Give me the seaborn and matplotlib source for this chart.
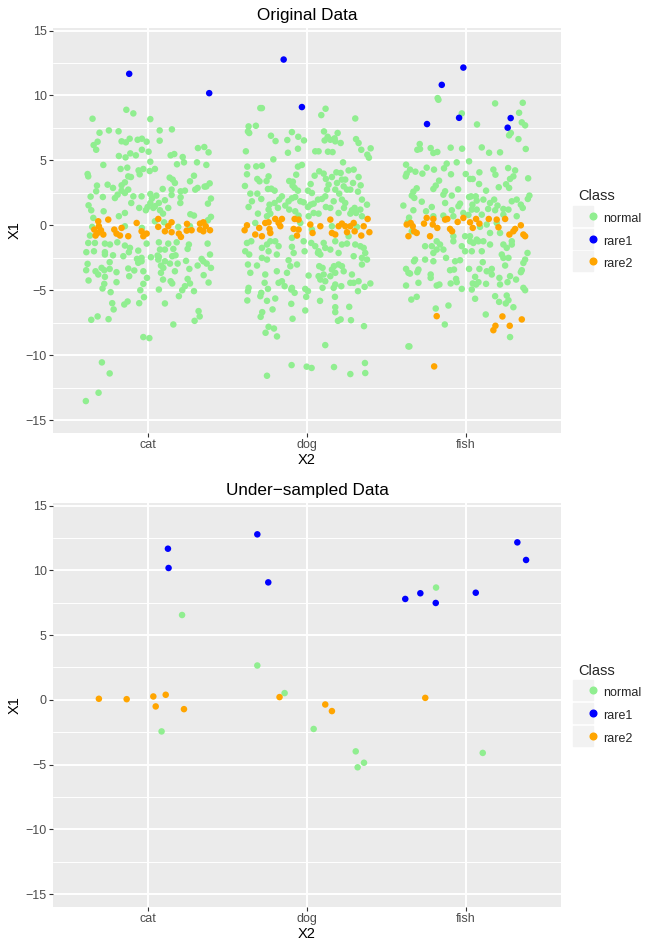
import matplotlib
matplotlib.use("Agg")
import matplotlib.pyplot as plt
import seaborn as sns
import pandas as pd
from matplotlib.lines import Line2D
from matplotlib.legend_handler import HandlerTuple
from matplotlib.ticker import MultipleLocator

categories = ["cat", "dog", "fish"]
classes = ["normal", "rare1", "rare2"]
palette = {"normal": "#90EE90", "rare1": "#0000FF", "rare2": "#FFA500"}

# Original data: (jitter offset from the category, X1)
normal_cat = [
    (-0.138, 8.90), (-0.094, 8.62), (-0.351, 8.21), (0.013, 8.18), (-0.307, 7.13), (-0.248, 7.31), (-0.187, 7.24),
    (0.072, 7.31), (0.149, 7.39), (-0.344, 6.18), (-0.319, 6.44), (-0.328, 5.82), (-0.168, 6.47), (-0.141, 6.39),
    (-0.117, 6.67), (-0.067, 6.59), (-0.04, 6.67), (-0.01, 6.44), (0.072, 6.52), (-0.04, 5.82), (0.002, 5.67),
    (-0.185, 5.34), (-0.143, 5.23), (-0.113, 5.54), (-0.078, 5.39), (0.141, 5.39), (0.164, 5.49), (0.217, 5.26),
    (0.313, 5.95), (0.353, 6.03), (0.38, 5.62), (0.013, 4.90), (0.181, 4.70), (0.225, 4.85), (0.307, 4.85),
    (0.366, 4.65), (-0.283, 4.65), (-0.174, 4.34), (-0.132, 4.44), (-0.061, 4.23), (-0.031, 4.34), (0.009, 4.18),
    (0.042, 4.34), (-0.382, 3.95), (-0.378, 3.77), (-0.126, 3.77), (-0.109, 3.72), (-0.147, 3.31), (-0.054, 3.93),
    (0.135, 3.67), (0.154, 3.52), (0.168, 3.26), (0.288, 3.82), (0.263, 3.39), (0.387, 3.23), (0.355, 2.98),
    (-0.323, 3.06), (-0.256, 3.13), (-0.222, 2.88), (-0.168, 3.08), (-0.168, 2.67), (-0.193, 2.36), (-0.147, 2.49),
    (-0.126, 2.75), (-0.363, 2.21), (-0.328, 2.62), (-0.286, 2.18), (-0.094, 2.23), (-0.042, 2.23), (0.013, 2.41),
    (0.023, 2.06), (0.051, 2.29), (0.091, 2.80), (0.147, 2.75), (0.147, 2.34), (0.204, 2.62), (0.204, 2.16),
    (0.231, 2.67), (0.202, 1.72), (0.296, 2.75), (0.311, 2.88), (0.366, 3.0), (0.395, 2.06), (0.376, 1.67),
    (-0.376, 1.54), (-0.359, 1.16), (-0.281, 1.08), (-0.185, 0.70), (-0.147, 0.95), (-0.107, 1.72), (-0.057, 1.34),
    (-0.015, 1.16), (0.013, 1.72), (0.042, 1.47), (0.067, 1.72), (0.105, 1.93), (0.126, 1.34), (0.093, 0.90),
    (0.265, 0.85), (0.288, 0.75), (0.395, 0.65), (0.376, 0.39), (0.032, 1.34), (0.074, 1.16), (-0.004, 1.41),
    (-0.21, 2.1), (-0.346, 0.57), (-0.353, -0.12), (-0.147, -0.07), (-0.04, -0.2), (0.1, 0.23), (0.189, -0.12),
    (-0.367, -0.79), (0.042, 0.31), (0.263, -0.07),
    (-0.378, -1.36), (-0.336, -1.36), (-0.273, -1.41), (-0.241, -1.48), (-0.195, -1.31), (-0.147, -1.56),
    (-0.115, -1.74), (-0.01, -1.41), (0.067, -1.31), (0.074, -1.87), (0.126, -1.41), (0.105, -1.87), (0.158, -1.82),
    (0.179, -1.31), (0.256, -1.48), (0.248, -1.82), (0.374, -1.41), (-0.39, -2.07), (-0.342, -2.0), (-0.273, -2.07),
    (-0.273, -2.25), (-0.222, -2.31), (-0.157, -2.38), (-0.122, -2.07), (-0.063, -1.95), (-0.042, -2.51),
    (0.017, -2.46), (0.059, -2.33), (0.063, -2.64), (0.151, -2.38), (0.172, -2.31), (-0.382, -2.97), (-0.391, -3.46),
    (-0.332, -3.54), (-0.315, -3.79), (-0.294, -3.28), (-0.277, -3.46), (-0.243, -3.36), (-0.273, -3.97),
    (-0.243, -2.84), (-0.2, -3.61), (-0.376, -4.25), (-0.277, -4.51), (-0.288, -4.87), (-0.237, -5.15), (-0.2, -4.38),
    (-0.126, -3.33), (-0.12, -3.92), (-0.088, -3.48), (-0.071, -2.59), (-0.042, -2.77), (-0.063, -2.89),
    (-0.031, -3.54), (-0.008, -4.05), (-0.031, -4.51), (-0.05, -5.0), (-0.027, -5.54), (-0.057, -6.0), (-0.13, -5.87),
    (-0.151, -6.1), (-0.227, -6.0), (-0.218, -6.48), (-0.359, -7.28), (-0.319, -7.02), (-0.25, -7.23), (0.067, -2.43),
    (0.08, -3.1), (0.08, -3.66), (0.095, -3.28), (0.105, -2.77), (0.137, -2.95), (0.168, -3.54), (0.185, -2.95),
    (0.093, -4.18), (0.067, -4.95), (0.141, -4.31), (0.151, -4.48), (0.214, -5.0), (0.231, -4.69), (0.263, -4.48),
    (0.248, -4.13), (0.288, -5.07), (0.259, -3.36), (0.238, -2.74), (0.311, -3.1), (0.349, -3.84), (0.38, -4.41),
    (0.347, -2.77), (0.368, -2.95), (0.389, -2.25), (0.395, -3.28), (0.336, -2.59), (0.193, -5.46), (0.105, -6.02),
    (0.317, -6.61), (0.324, -7.02), (0.292, -7.36), (0.158, -7.64), (-0.031, -8.61), (0.007, -8.69),
    (-0.292, -10.56), (-0.243, -11.41), (-0.313, -12.9), (-0.393, -13.54),
]
normal_dog = [
    (-0.294, 9.03), (-0.284, 9.03), (0.117, 8.98), (0.09, 8.49), (0.304, 8.23), (-0.368, 7.62), (-0.372, 7.23),
    (-0.364, 7.11), (-0.322, 7.67), (-0.227, 6.9), (-0.198, 6.49), (-0.124, 6.57), (-0.095, 7.18), (-0.055, 6.82),
    (-0.019, 6.54), (-0.057, 5.9), (-0.12, 5.59), (-0.385, 5.7), (-0.212, 5.08), (0.107, 7.23), (0.13, 6.82),
    (0.111, 6.54), (0.147, 6.59), (0.174, 6.7), (0.193, 7.11), (0.178, 6.47), (0.212, 6.34), (0.309, 6.64),
    (0.325, 6.34), (0.342, 5.82), (0.38, 5.44), (0.39, 5.21), (0.401, 5.93), (0.052, 5.7), (0.073, 5.7),
    (0.132, 5.67), (0.161, 5.64), (0.227, 4.85), (-0.376, 4.52), (-0.32, 4.54), (-0.284, 4.59), (-0.378, 3.93),
    (-0.313, 3.57), (-0.299, 3.39), (-0.242, 3.77), (-0.255, 3.41), (-0.391, 3.03), (-0.246, 2.8), (-0.225, 2.82),
    (-0.357, 2.44), (-0.313, 2.44), (-0.204, 2.67), (-0.057, 4.52), (-0.032, 4.65), (-0.068, 3.9), (-0.112, 3.41),
    (-0.089, 3.36), (-0.078, 2.88), (-0.057, 2.67), (-0.091, 3.06), (0.006, 2.67), (0.023, 3.18), (0.031, 2.49),
    (0.048, 3.82), (0.077, 4.16), (0.105, 3.98), (0.119, 3.57), (0.136, 3.13), (0.126, 2.75), (0.157, 3.72),
    (0.185, 4.08), (0.212, 4.03), (0.22, 3.52), (0.189, 3.26), (0.178, 2.75), (0.231, 3.0), (0.262, 4.23),
    (0.294, 4.29), (0.252, 2.75), (0.273, 2.75), (0.29, 3.26), (0.325, 3.72), (0.338, 3.08), (0.321, 2.59),
    (0.241, 3.52), (0.203, 2.44), (-0.368, 1.41), (-0.347, 1.85), (-0.288, 2.03), (-0.236, 1.59), (-0.242, 1.21),
    (-0.204, 1.72), (-0.183, 1.34), (-0.158, 2.23), (-0.175, 1.98), (-0.137, 1.52), (-0.116, 1.85), (-0.095, 2.08),
    (-0.074, 2.18), (-0.112, 1.21), (-0.074, 1.08), (-0.042, 1.85), (-0.021, 1.77), (0.006, 1.41), (0.023, 1.59),
    (0.042, 1.67), (0.069, 1.98), (0.094, 2.03), (0.115, 2.23), (0.119, 1.41), (0.147, 1.34), (0.168, 1.85),
    (0.22, 1.98), (0.241, 1.72), (0.233, 1.34), (0.283, 1.16), (0.3, 1.34), (0.346, 1.98), (0.378, 1.59),
    (0.336, 1.21), (0.309, 0.95), (0.346, 0.7), (0.273, 0.9), (0.199, 0.95), (0.073, 0.9), (0.042, 0.95),
    (-0.053, 0.75), (0.01, 0.7), (-0.309, 0.9), (-0.252, 0.7), (-0.231, 0.9), (-0.042, 0.18), (0.157, -0.07),
    (0.262, -0.84), (-0.095, -0.97), (-0.326, 0.18), (0.031, -0.33), (0.315, -0.12),
    (-0.378, -1.36), (-0.351, -1.23), (-0.284, -1.74), (-0.252, -1.48), (-0.231, -1.23), (-0.2, -1.23),
    (-0.242, -2.0), (-0.179, -1.61), (-0.19, -2.25), (-0.095, -1.66), (-0.084, -2.13), (-0.021, -1.23),
    (-0.015, -2.0), (0.027, -1.36), (0.052, -1.61), (0.073, -2.0), (0.084, -2.25), (0.105, -1.36), (0.115, -1.74),
    (0.147, -1.87), (0.178, -1.23), (0.199, -2.13), (0.22, -1.48), (0.252, -1.41), (0.304, -1.48), (0.336, -1.61),
    (0.357, -1.74), (0.367, -2.13), (0.294, -2.38), (0.346, -2.51), (-0.389, -2.0), (-0.364, -2.25), (-0.284, -2.51),
    (-0.252, -2.64), (-0.372, -3.02), (-0.357, -3.66), (-0.315, -3.1), (-0.263, -3.79), (-0.19, -3.54),
    (-0.126, -3.66), (-0.116, -2.69), (-0.105, -3.15), (-0.063, -3.02), (-0.267, -4.43), (-0.179, -4.43),
    (-0.158, -4.31), (-0.141, -4.69), (-0.095, -4.82), (-0.078, -5.2), (-0.099, -4.95), (-0.368, -4.82),
    (-0.372, -5.07), (-0.288, -5.2), (-0.294, -5.46), (-0.246, -4.9), (0.01, -3.87), (-0.011, -4.9), (0.006, -5.07),
    (-0.005, -5.51), (0.069, -2.13), (0.077, -3.15), (0.098, -3.28), (0.073, -3.92), (0.105, -3.79), (0.084, -4.18),
    (0.115, -4.31), (0.157, -3.41), (0.17, -3.15), (0.199, -3.02), (0.22, -3.15), (0.231, -3.54), (0.178, -3.66),
    (0.147, -3.92), (0.098, -4.82), (0.216, -4.69), (0.168, -4.82), (0.178, -4.56), (0.283, -3.79), (0.294, -4.43),
    (0.273, -4.43), (0.325, -4.31), (0.321, -5.07), (0.363, -4.74), (0.399, -4.48), (0.346, -3.02), (0.378, -2.64),
    (0.082, -5.82), (0.176, -5.51), (0.178, -6.31), (0.178, -6.69), (0.266, -6.28), (0.195, -7.36), (0.212, -7.25),
    (0.277, -7.31), (0.359, -7.77), (-0.376, -5.79), (-0.252, -5.82), (-0.2, -5.64), (-0.217, -6.48),
    (-0.099, -6.05), (-0.011, -6.56), (-0.282, -6.69), (-0.292, -7.05), (-0.091, -7.2), (-0.242, -7.82),
    (-0.208, -7.95), (-0.261, -8.28), (-0.189, -8.56), (0.115, -9.23), (-0.097, -10.77), (-0.002, -10.89),
    (0.029, -10.99), (0.17, -10.92), (0.365, -10.61), (0.273, -11.46), (0.367, -11.38), (-0.252, -11.59),
]
normal_fish = [
    (-0.177, 9.8), (-0.172, 9.67), (0.185, 9.39), (0.359, 9.44), (-0.025, 8.62), (0.336, 8.67), (0.071, 7.77),
    (0.353, 7.93), (0.374, 7.7), (0.273, 6.93), (0.284, 7.11), (0.332, 6.64), (0.378, 5.88), (-0.29, 6.26),
    (-0.305, 5.82), (-0.288, 5.88), (-0.221, 5.95), (-0.204, 5.57), (-0.179, 5.65), (-0.095, 5.98), (-0.023, 5.9),
    (0.101, 6.0), (0.147, 5.59), (0.216, 5.62), (-0.376, 4.67), (-0.351, 4.29), (-0.378, 3.77), (-0.372, 3.98),
    (-0.317, 4.13), (-0.273, 3.98), (-0.246, 4.44), (-0.2, 4.29), (-0.137, 4.39), (-0.12, 4.75), (-0.057, 4.85),
    (0.021, 4.93), (-0.093, 3.93), (0.0, 3.95), (0.027, 3.57), (0.044, 3.57), (0.086, 4.08), (0.174, 4.29),
    (0.187, 3.9), (0.267, 4.41), (0.311, 4.23), (0.3, 3.77), (0.279, 3.57), (0.254, 3.16), (0.273, 2.88),
    (0.393, 3.62), (-0.168, 3.44), (-0.204, 2.8), (-0.189, 3.06), (-0.309, 2.85), (-0.33, 2.59), (-0.34, 2.29),
    (-0.324, 2.11), (-0.277, 1.82), (-0.393, 1.52), (-0.048, 2.77), (-0.13, 2.62), (-0.141, 2.36), (-0.088, 2.29),
    (-0.13, 1.72), (0.084, 3.18), (0.128, 2.67), (0.208, 2.93), (0.034, 2.23), (0.021, 2.18), (0.063, 2.23),
    (0.111, 1.98), (0.069, 1.9), (0.042, 1.59), (0.153, 1.72), (0.179, 1.98), (0.2, 1.52), (0.29, 1.85),
    (0.321, 1.98), (0.347, 1.59), (0.391, 2.03), (0.401, 2.29), (-0.046, 1.47), (-0.036, 1.67), (-0.088, 1.16),
    (-0.214, 1.41), (-0.25, 1.08), (-0.33, 1.16), (-0.357, 0.59), (-0.366, 0.23), (0.069, 1.21), (0.101, 0.82),
    (0.141, 1.26), (0.185, 1.16), (0.237, 1.26), (0.269, 1.21), (0.237, 0.82), (0.321, 0.7), (0.359, 1.34),
    (-0.015, 0.95), (0.017, 0.8), (0.038, 1.21), (-0.141, 0.75), (-0.078, 0.7), (-0.204, 0.7), (0.132, 0.06),
    (0.195, 0.18), (0.09, -0.12), (-0.004, -0.84), (0.027, -0.84), (-0.078, -0.84), (0.153, -0.59), (0.216, -0.59),
    (0.069, -1.1), (0.111, -1.23), (-0.34, -0.46),
    (-0.256, -1.61), (-0.214, -1.61), (-0.183, -1.23), (-0.162, -1.48), (-0.141, -1.87), (-0.204, -2.13),
    (-0.183, -1.87), (-0.078, -1.23), (-0.025, -1.61), (-0.004, -2.0), (0.027, -1.23), (0.048, -1.36),
    (0.08, -1.23), (0.153, -1.48), (0.237, -1.48), (0.258, -1.74), (0.29, -1.23), (0.29, -1.48),
    (-0.319, -2.64), (-0.326, -2.77), (-0.256, -2.64), (-0.204, -2.77), (-0.124, -2.51), (-0.067, -2.77),
    (-0.036, -2.69), (0.038, -2.0), (0.101, -2.0), (0.227, -2.25), (0.237, -2.51), (0.269, -2.51), (0.248, -3.1),
    (0.389, -2.13), (0.374, -2.64), (0.363, -2.9), (-0.376, -3.36), (-0.361, -3.66), (-0.298, -3.41),
    (-0.351, -3.72), (-0.305, -3.61), (-0.221, -3.79), (-0.221, -4.05), (-0.099, -3.46), (-0.074, -3.41),
    (0.021, -3.36), (0.086, -3.36), (0.107, -2.84), (0.132, -3.54), (0.164, -3.36), (0.164, -3.79), (0.059, -3.97),
    (-0.376, -4.64), (-0.298, -4.43), (-0.183, -4.64), (-0.166, -4.56), (-0.095, -4.48), (-0.057, -4.38),
    (-0.061, -4.13), (-0.025, -4.9), (0.038, -4.95), (0.044, -4.48), (0.065, -4.56), (0.08, -4.38), (0.128, -4.51),
    (0.212, -4.05), (0.216, -4.56), (0.263, -4.38), (0.279, -3.92), (0.317, -4.18), (0.347, -3.61), (0.353, -3.46),
    (0.363, -4.82), (0.374, -5.0), (-0.343, -5.72), (-0.309, -5.51), (0.059, -5.66), (0.185, -5.46), (0.21, -5.9),
    (0.258, -5.41), (0.269, -5.77), (0.252, -6.02), (0.3, -6.31), (-0.189, -6.41), (-0.109, -6.18), (0.126, -6.87),
    (-0.132, -7.64), (0.279, -8.61), (-0.361, -9.33), (-0.355, -9.33),
]
rare1_cat = [(-0.12, 11.67), (0.384, 10.18)]
rare1_dog = [(-0.147, 12.77), (-0.032, 9.11)]
rare1_fish = [(-0.015, 12.15), (-0.151, 10.82), (-0.042, 8.28), (-0.244, 7.8), (0.283, 8.26), (0.264, 7.52)]
rare2_cat = [
    (-0.315, 0.31), (-0.311, -0.07), (-0.319, -0.59), (-0.332, -0.79), (-0.298, -0.38), (-0.283, -0.71),
    (-0.34, -0.33), (-0.252, 0.44), (-0.214, -0.33), (-0.2, -0.64), (-0.178, -0.79), (-0.168, -0.2),
    (-0.126, -0.84), (-0.073, 0.18), (-0.042, -0.46), (-0.031, -0.84), (-0.01, -0.64), (0.063, 0.49),
    (0.063, -0.12), (0.105, -0.46), (0.126, -0.07), (0.147, 0.23), (0.147, -0.53), (0.193, -0.64), (0.206, -0.89),
    (0.244, 0.11), (0.242, -0.41), (0.273, -0.38), (0.326, 0.13), (0.347, 0.23), (0.362, -0.07), (0.347, -0.46),
    (0.326, -0.33), (0.389, -0.38),
]
rare2_dog = [
    (-0.378, 0.0), (-0.393, -0.38), (-0.326, -0.71), (-0.301, -0.2), (-0.284, -0.84), (-0.263, 0.18),
    (-0.242, 0.23), (-0.236, -0.28), (-0.231, -0.59), (-0.2, 0.49), (-0.179, 0.18), (-0.168, -0.07),
    (-0.158, 0.49), (-0.078, 0.49), (-0.053, 0.44), (-0.084, -0.28), (-0.063, -0.79), (-0.053, -0.33),
    (0.021, 0.06), (0.035, -0.59), (0.084, -0.07), (0.147, 0.44), (0.157, -0.59), (0.178, -0.71), (0.199, -0.07),
    (0.22, 0.13), (0.241, -0.07), (0.252, -0.53), (0.273, -0.07), (0.294, 0.18), (0.3, -0.46), (0.342, -0.79),
    (0.357, -0.07), (0.382, 0.49), (0.393, -0.53),
]
rare2_fish = [
    (-0.372, 0.06), (-0.347, 0.18), (-0.361, -0.84), (-0.334, -0.07), (-0.326, -0.46), (-0.309, -0.59),
    (-0.263, 0.13), (-0.246, 0.57), (-0.225, -0.84), (-0.208, 0.06), (-0.204, 0.49), (-0.179, -0.2),
    (-0.13, 0.44), (-0.116, 0.49), (-0.099, -0.28), (-0.086, -0.46), (-0.051, 0.26), (-0.015, 0.57),
    (0.027, 0.23), (0.044, -0.2), (0.065, 0.49), (0.086, 0.13), (0.145, 0.49), (0.195, 0.44), (0.206, -0.15),
    (0.248, 0.49), (0.275, -0.71), (0.3, -0.46), (0.311, -0.28), (0.347, 0.0), (0.363, -0.71), (0.374, -0.84),
    (-0.183, -7.0), (0.231, -7.02), (0.353, -7.25), (0.187, -7.74), (0.174, -8.08), (0.277, -7.74), (-0.199, -10.87),
]

# Under-sampled data
us_normal_cat = [(0.213, 6.55), (0.084, -2.44)]
us_normal_dog = [(-0.313, 2.65), (-0.141, 0.52), (0.042, -2.25), (0.307, -3.98), (0.359, -4.86), (0.319, -5.21)]
us_normal_fish = [(-0.187, 8.67), (0.107, -4.10)]
us_rare1_cat = [(0.124, 11.67), (0.128, 10.18)]
us_rare1_dog = [(-0.313, 12.78), (-0.244, 9.07)]
us_rare1_fish = [(0.325, 12.16), (0.38, 10.8), (-0.286, 8.23), (-0.381, 7.79), (-0.189, 7.48), (0.063, 8.27)]
us_rare2_cat = [(-0.311, 0.08), (-0.136, 0.05), (0.032, 0.26), (0.11, 0.39), (0.047, -0.51), (0.225, -0.72)]
us_rare2_dog = [(-0.173, 0.21), (0.115, -0.36), (0.157, -0.87)]
us_rare2_fish = [(-0.255, 0.15)]

y_ticks = [-15, -10, -5, 0, 5, 10, 15]


def build_frame(groups):
    rows = []
    for cls, cat, pairs in groups:
        pos = categories.index(cat)
        for dx, y in pairs:
            rows.append({"X2": cat, "xpos": pos + dx, "X1": y, "Class": cls})
    return pd.DataFrame(rows)


orig = build_frame([
    ("normal", "cat", normal_cat), ("normal", "dog", normal_dog), ("normal", "fish", normal_fish),
    ("rare1", "cat", rare1_cat), ("rare1", "dog", rare1_dog), ("rare1", "fish", rare1_fish),
    ("rare2", "cat", rare2_cat), ("rare2", "dog", rare2_dog), ("rare2", "fish", rare2_fish),
])
under = build_frame([
    ("normal", "cat", us_normal_cat), ("normal", "dog", us_normal_dog), ("normal", "fish", us_normal_fish),
    ("rare1", "cat", us_rare1_cat), ("rare1", "dog", us_rare1_dog), ("rare1", "fish", us_rare1_fish),
    ("rare2", "cat", us_rare2_cat), ("rare2", "dog", us_rare2_dog), ("rare2", "fish", us_rare2_fish),
])

sns.set_style("darkgrid", {"axes.facecolor": "#EBEBEB", "grid.color": "white"})
plt.rcParams["font.family"] = ["Liberation Sans", "DejaVu Sans"]

fig = plt.figure(figsize=(6.64, 9.49), dpi=100)
ax_top = fig.add_axes([53 / 664, 1 - 433 / 949, 508 / 664, 405 / 949])
ax_bot = fig.add_axes([53 / 664, 1 - 907 / 949, 508 / 664, 404 / 949])


def draw_panel(ax, df, title):
    sns.scatterplot(data=df, x="xpos", y="X1", hue="Class", hue_order=classes, palette=palette,
                    s=22, linewidth=0, alpha=1, ax=ax, legend=False, zorder=3)
    ax.set_xlim(-0.6, 2.6)
    ax.set_ylim(-16.0, 15.2)
    ax.set_xticks(range(len(categories)))
    ax.set_xticklabels(categories)
    ax.set_yticks(y_ticks)
    ax.yaxis.set_minor_locator(MultipleLocator(2.5))
    ax.grid(False)
    ax.grid(which="major", color="white", linewidth=1.4)
    ax.grid(which="minor", axis="y", color="white", linewidth=0.7)
    ax.set_axisbelow(True)
    for sp in ax.spines.values():
        sp.set_visible(False)
    ax.tick_params(which="major", length=2.6, width=0.8, color="#333333", labelcolor="#4D4D4D",
                   labelsize=9.0, pad=2, bottom=True, left=True)
    ax.tick_params(which="minor", length=0)
    ax.set_xlabel("X2", fontsize=10.5, color="black", labelpad=1)
    ax.set_ylabel("X1", fontsize=10.5, color="black", labelpad=3)
    ax.set_title(title, fontsize=12.3, color="black", pad=6)

    handles = [
        (Line2D([], [], marker="s", markersize=14.6, color="#F2F2F2", linestyle=""),
         Line2D([], [], marker="o", markersize=4.8, color=palette[c], linestyle=""))
        for c in classes
    ]
    leg = ax.legend(handles, classes, title="Class", loc="center left", bbox_to_anchor=(1.033, 0.5),
                    frameon=False, borderpad=0, handler_map={tuple: HandlerTuple(ndivide=None)},
                    handlelength=1.65, handleheight=1.65, handletextpad=0.35, labelspacing=0.5,
                    fontsize=9.0, title_fontsize=10.5, alignment="left", borderaxespad=0)
    return leg


draw_panel(ax_top, orig, "Original Data")
draw_panel(ax_bot, under, "Under\u2212sampled Data")

fig.savefig("out.png", dpi=100)
